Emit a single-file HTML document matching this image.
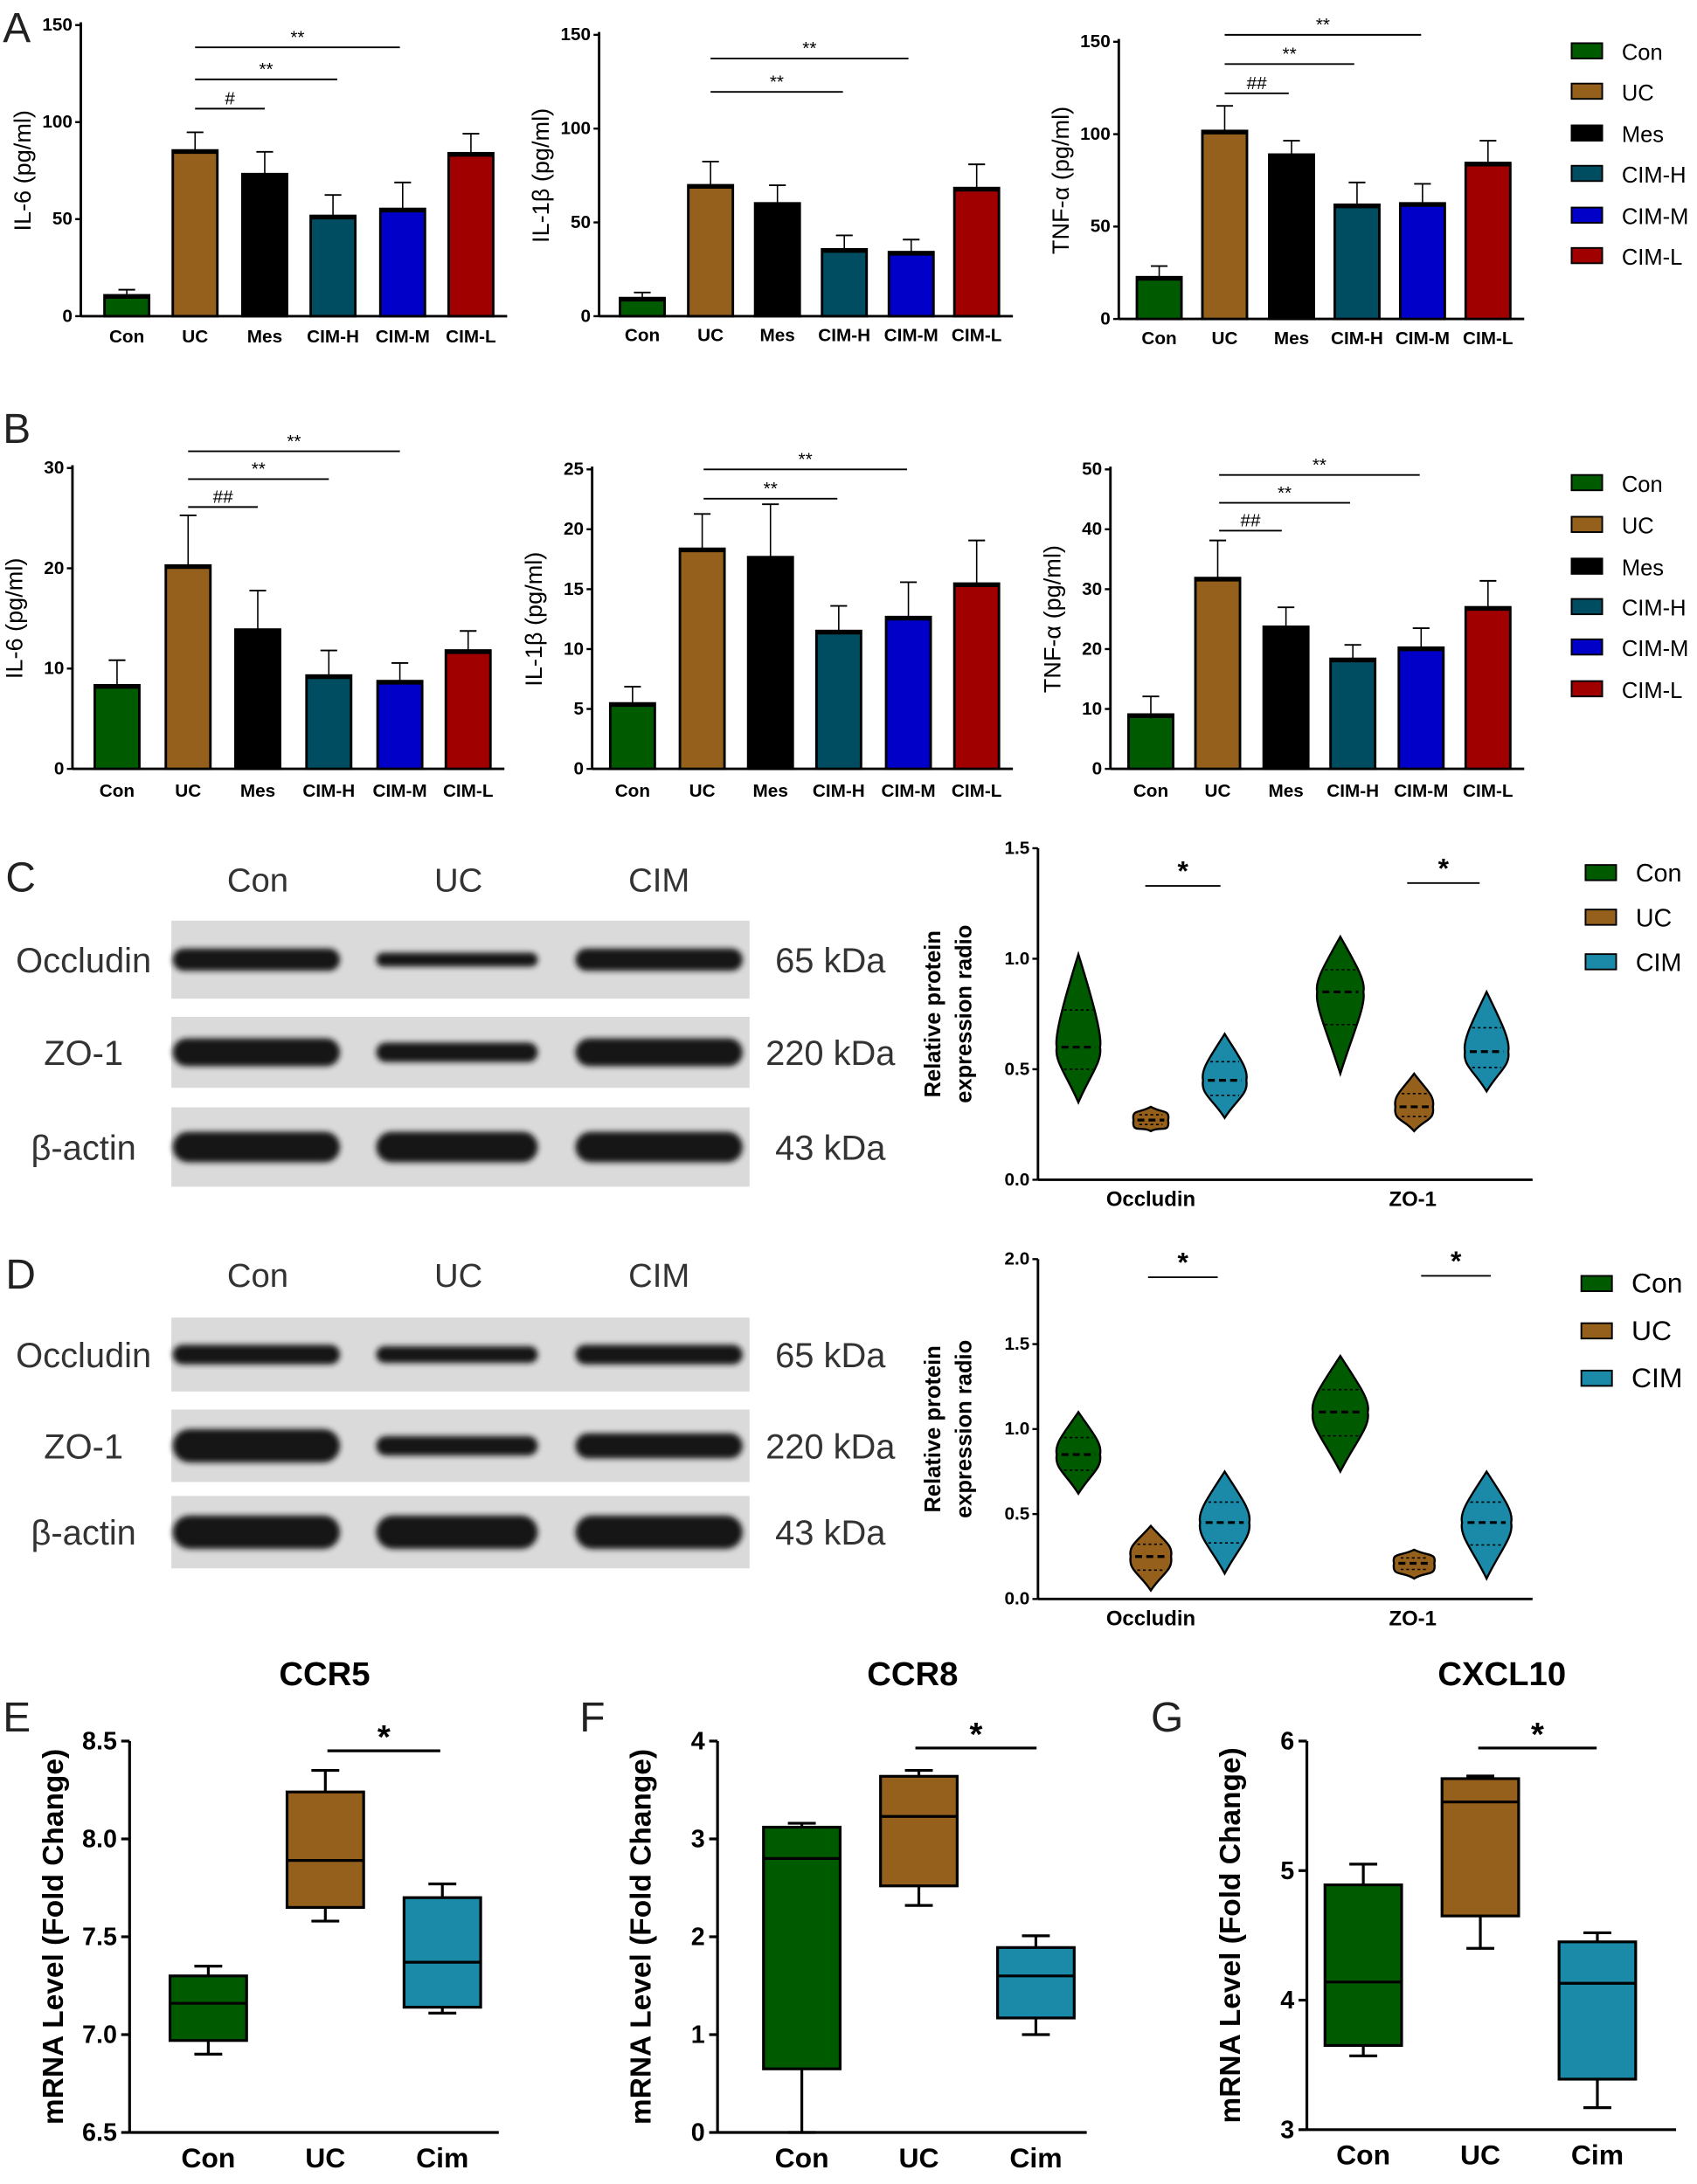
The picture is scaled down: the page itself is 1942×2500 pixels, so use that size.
<!DOCTYPE html>
<html><head><meta charset="utf-8"><style>
html,body{margin:0;padding:0;background:#fff;}
svg{display:block;font-family:"Liberation Sans",Arial,sans-serif;}
</style></head><body>
<svg id="s" width="1942" height="2500" viewBox="0 0 1218 1568" xmlns="http://www.w3.org/2000/svg">
<defs><filter id="bl" x="-10%" y="-50%" width="120%" height="200%"><feGaussianBlur stdDeviation="2"/></filter></defs>
<rect width="1218" height="1568" fill="#fff"/>
<g font-size="30" fill="#222">
<text x="2" y="30">A</text><text x="2" y="318">B</text><text x="4" y="640">C</text><text x="4" y="925">D</text>
<text x="2" y="1243">E</text><text x="416" y="1243">F</text><text x="826" y="1243">G</text>
</g>
<g id="g"></g>
</svg>
<script>
const g=document.getElementById('g');let h='';
const C={Con:'#005a00',UC:'#94601c',Mes:'#000',H:'#004c60',M:'#0000c8',L:'#a00000',CIM:'#1a8aa8'};
const cols=[C.Con,C.UC,C.Mes,C.H,C.M,C.L];
const names=['Con','UC','Mes','CIM-H','CIM-M','CIM-L'];
function T(x,y,t,o){o=o||{};h+=`<text x="${x}" y="${y}" font-size="${o.s||14}" font-weight="${o.b?'bold':'normal'}" text-anchor="${o.a||'middle'}" fill="${o.c||'#000'}"${o.r?` transform="rotate(-90 ${x} ${y})"`:''}>${t}</text>`;}
function L(x1,y1,x2,y2,w,c,d){h+=`<line x1="${x1}" y1="${y1}" x2="${x2}" y2="${y2}" stroke="${c||'#000'}" stroke-width="${w||1.5}"${d?` stroke-dasharray="${d}"`:''}/>`;}
function bar(ax,yT,yB,max,ticks,xs,tops,errs,ylab,sig,xl){
 L(ax,yT-2,ax,yB,1.8);L(ax,yB,xs[5]+42,yB,1.8);
 ticks.forEach(t=>{const y=yB-(yB-yT)*t/max;L(ax-4,y,ax,y,1.5);T(ax-6,y+4,t,{s:13,b:1,a:'end'});});
 xs.forEach((x,i)=>{const w=32,top=tops[i];
  L(x+w/2,top,x+w/2,errs[i],1);L(x+w/2-6,errs[i],x+w/2+6,errs[i],1.2);
  h+=`<rect x="${x}" y="${top}" width="${w}" height="${yB-top}" fill="${cols[i]}" stroke="#000" stroke-width="1.8"/>`;
  L(x,top+1,x+w,top+1,3);
  T(x+w/2,xl,names[i],{s:13,b:1});});
 T(ax-36,(yT+yB)/2,ylab,{s:17,r:1});
 sig.forEach(s=>{L(s[0],s[1],s[2],s[1],1.2);T((s[0]+s[2])/2,s[1]-3,s[3],{s:13});});
}
bar(58,18,227,150,[0,50,100,150],[75,124,174,223,273,322],[212,108,125,155,150,110],[208,95,109,140,131,96],'IL-6 (pg/ml)',[[140,34,287,'**'],[140,57,242,'**'],[140,78,190,'#']],246);
bar(430,25,227,150,[0,50,100,150],[445,494,542,590,638,685],[214,133,146,179,181,135],[210,116,133,169,172,118],'IL-1β (pg/ml)',[[510,42,652,'**'],[510,66,605,'**']],245);
bar(803,30,229,150,[0,50,100,150],[816,863,911,958,1005,1052],[199,94,111,147,146,117],[191,76,101,131,132,101],'TNF-α (pg/ml)',[[879,25,1020,'**'],[879,46,972,'**'],[879,67,925,'##']],247);
bar(52,336,552,30,[0,10,20,30],[68,119,169,220,271,320],[492,406,452,485,489,467],[474,370,424,467,476,453],'IL-6 (pg/ml)',[[135,324,287,'**'],[135,344,236,'**'],[135,364,185,'##']],572);
bar(425,337,552,25,[0,5,10,15,20,25],[438,488,537,586,636,685],[505,394,400,453,443,419],[493,369,362,435,418,388],'IL-1β (pg/ml)',[[505,337,651,'**'],[505,358,601,'**']],572);
bar(797,337,552,50,[0,10,20,30,40,50],[810,858,907,955,1004,1052],[513,415,450,473,465,436],[500,388,436,463,451,417],'TNF-α (pg/ml)',[[875,341,1019,'**'],[875,361,969,'**'],[875,381,920,'##']],572);
function leg(x,ys,labs,cs,s){ys.forEach((y,i)=>{h+=`<rect x="${x}" y="${y-6}" width="22" height="11" fill="${cs[i]}" stroke="#000" stroke-width="1.2"/>`;T(x+36,y+6,labs[i],{s:s||16,a:'start'});});}
leg(1128,[37,66,96,125,155,184],names,cols);
leg(1128,[347,377,407,436,465,495],names,cols);
leg(1138,[627,659,691],['Con','UC','CIM'],[C.Con,C.UC,C.CIM],18);
leg(1135,[922,956,990],['Con','UC','CIM'],[C.Con,C.UC,C.CIM],20);
function blot(y0,rows){
 T(185,y0,'Con',{s:24,c:'#333'});T(329,y0,'UC',{s:24,c:'#333'});T(473,y0,'CIM',{s:24,c:'#333'});
 rows.forEach(r=>{h+=`<rect x="123" y="${r[0]}" width="415" height="${r[1]-r[0]}" fill="#dadada"/>`;
  const c=(r[0]+r[1])/2;
  [[184,r[2]],[328,r[3]],[473,r[4]]].forEach(b=>{const rx=b[0]==328?58:60;h+=`<rect x="${b[0]-rx}" y="${c-b[1]}" width="${2*rx}" height="${2*b[1]}" rx="${b[1]}" fill="#151515" filter="url(#bl)"/>`;});
  T(60,c+9,r[5],{s:25,c:'#333'});T(596,c+9,r[6],{s:25,c:'#333'});});
}
blot(640,[[661,717,8,5,8,'Occludin','65 kDa'],[730,781,10,7,10,'ZO-1','220 kDa'],[795,852,11,11,11,'β-actin','43 kDa']]);
blot(924,[[946,999,7,6,7,'Occludin','65 kDa'],[1012,1064,12,7,9,'ZO-1','220 kDa'],[1074,1126,12,12,12,'β-actin','43 kDa']]);
function vio(ax,yT,yB,max,ticks,data,sig){
 L(ax,yT,ax,yB,1.8);L(ax,yB,1100,yB,1.8);
 ticks.forEach(t=>{const y=yB-(yB-yT)*t/max;L(ax-4,y,ax,y,1.5);T(ax-6,y+4,t.toFixed(1),{s:13,b:1,a:'end'});});
 T(675,(yT+yB)/2,'Relative protein',{s:16,b:1,r:1});T(697,(yT+yB)/2,'expression radio',{s:16,b:1,r:1});
 T(826,yB+19,'Occludin',{s:15,b:1});T(1014,yB+19,'ZO-1',{s:15,b:1});
 data.forEach(d=>{const [x,lo,hi,med,w0,c]=d;const w=w0*1.15;const Y=v=>yB-(yB-yT)*v/max;
  const a=Y(hi),b=Y(lo),m=Y(med);
  h+=`<path d="M${x},${a} C${x+w*0.6},${(a+m)/2} ${x+w},${m-8} ${x+w*0.9},${m} C${x+w},${m+10} ${x+w*0.5},${(m+b)/2} ${x},${b} C${x-w*0.5},${(m+b)/2} ${x-w},${m+10} ${x-w*0.9},${m} C${x-w},${m-8} ${x-w*0.6},${(a+m)/2} ${x},${a}Z" fill="${c}" stroke="#000" stroke-width="1.5"/>`;
  const q1=m-(m-a)*0.4,q3=m+(b-m)*0.4;
  L(x-w*0.6,q1,x+w*0.6,q1,1,'#000','2,2');L(x-w*0.6,q3,x+w*0.6,q3,1,'#000','2,2');
  L(x-w*0.7,m,x+w*0.7,m,2,'#000','5,3');});
 sig.forEach(s=>{L(s[0],s[1],s[2],s[1],1.2);T((s[0]+s[2])/2,s[1]-4,'*',{s:20,b:1});});
}
vio(745,609,847,1.5,[0,0.5,1,1.5],[[774,0.35,1.02,0.6,15,C.Con],[826,0.22,0.33,0.27,12,C.UC],[879,0.28,0.66,0.45,15,C.CIM],[962,0.48,1.1,0.85,16,C.Con],[1015,0.22,0.48,0.33,13,C.UC],[1067,0.4,0.85,0.58,15,C.CIM]],[[822,636,876],[1010,634,1062]]);
vio(745,904,1148,2.0,[0,0.5,1,1.5,2],[[774,0.62,1.1,0.85,15,C.Con],[826,0.05,0.43,0.25,14,C.UC],[879,0.15,0.75,0.45,17,C.CIM],[962,0.75,1.43,1.1,19,C.Con],[1015,0.12,0.29,0.21,14,C.UC],[1067,0.12,0.75,0.45,17,C.CIM]],[[824,917,874],[1020,916,1070]]);
function box(ax,yT,yB,min,max,ticks,title,data,sig){
 const Y=v=>yB-(yB-yT)*(v-min)/(max-min);
 L(ax,yT,ax,yB,2);L(ax,yB,ax+265,yB,2);
 ticks.forEach(t=>{const y=Y(t);L(ax-6,y,ax,y,2);T(ax-9,y+6,t,{s:18,b:1,a:'end'});});
 T(ax+140,yT-40,title,{s:24,b:1});
 T(ax-48,(yT+yB)/2,'mRNA Level (Fold Change)',{s:21,b:1,r:1});
 const labs=['Con','UC','Cim'];
 data.forEach((d,i)=>{const x=d[0],w=55,c=x+w/2;
  L(c,Y(d[1]),c,Y(d[5]),2);L(c-10,Y(d[1]),c+10,Y(d[1]),2);L(c-10,Y(d[5]),c+10,Y(d[5]),2);
  h+=`<rect x="${x}" y="${Y(d[4])}" width="${w}" height="${Y(d[2])-Y(d[4])}" fill="${[C.Con,C.UC,C.CIM][i]}" stroke="#000" stroke-width="2"/>`;
  L(x,Y(d[3]),x+w,Y(d[3]),2);T(c,yB+25,labs[i],{s:20,b:1});});
 L(sig[0],sig[1],sig[2],sig[1],2);T((sig[0]+sig[2])/2,sig[1]-2,'*',{s:24,b:1});
}
box(93,1250,1531,6.5,8.5,[6.5,7.0,7.5,8.0,8.5].map(v=>v.toFixed(1)),'CCR5',[[122,6.9,6.97,7.16,7.3,7.35],[206,7.58,7.65,7.89,8.24,8.35],[290,7.11,7.14,7.37,7.7,7.77]],[235,1257,316]);
box(515,1250,1531,0,4,[0,1,2,3,4],'CCR8',[[548,0,0.65,2.8,3.12,3.16],[632,2.32,2.52,3.23,3.64,3.7],[716,1.0,1.17,1.6,1.89,2.01]],[657,1255,744]);
box(938,1250,1529,3,6,[3,4,5,6],'CXCL10',[[951,3.57,3.65,4.14,4.89,5.05],[1035,4.4,4.65,5.53,5.71,5.73],[1119,3.17,3.39,4.13,4.45,4.52]],[1061,1255,1146]);
g.innerHTML=h;
</script>
</body></html>
